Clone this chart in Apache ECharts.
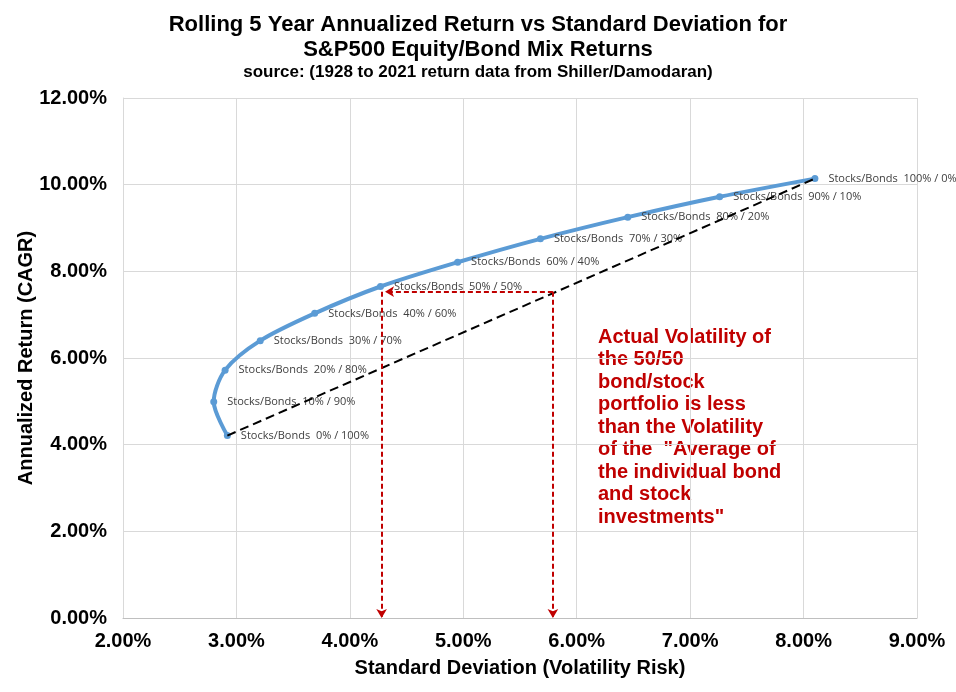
<!DOCTYPE html>
<html>
<head>
<meta charset="utf-8">
<script src="https://cdn.jsdelivr.net/npm/echarts@6/dist/echarts.min.js"></script>
<style>
  html, body { margin: 0; padding: 0; background: #fff; }
  #chart { width: 956px; height: 692px; }
</style>
</head>
<body>
<div id="chart"></div>
<script>
// Portfolio mixes, stocks share first
const mixLabels = [
  'Stocks/Bonds  0% / 100%', 'Stocks/Bonds  10% / 90%', 'Stocks/Bonds  20% / 80%',
  'Stocks/Bonds  30% / 70%', 'Stocks/Bonds  40% / 60%', 'Stocks/Bonds  50% / 50%',
  'Stocks/Bonds  60% / 40%', 'Stocks/Bonds  70% / 30%', 'Stocks/Bonds  80% / 20%',
  'Stocks/Bonds  90% / 10%', 'Stocks/Bonds  100% / 0%'
];
// standard deviation (%) and annualized return (%) of each mix
const stdDev = [2.92, 2.80, 2.90, 3.21, 3.69, 4.27, 4.95, 5.68, 6.45, 7.26, 8.10];
const cagr   = [4.21, 4.99, 5.72, 6.40, 7.03, 7.65, 8.21, 8.75, 9.25, 9.72, 10.14];

// annotation: volatility of the 50/50 mix vs the straight average of both
const mixVol = 4.28;
const avgVol = 5.79;
const levelReturn = 7.53;

const xTicks = { min: 2, max: 9, interval: 1 };
const yTicks = { min: 0, max: 12, interval: 2 };

const chart = echarts.init(document.getElementById('chart'));

const curveData = stdDev.map((x, i) => ({ value: [x, cagr[i]], name: mixLabels[i] }));
const last = stdDev.length - 1;
const averageLine = [[stdDev[0], cagr[0]], [stdDev[last], cagr[last]]];

const pct = v => v.toFixed(2) + '%';
const red = '#C00000';
const bold20 = { fontFamily: 'Liberation Sans', fontWeight: 'bold', fontSize: 20, color: '#000' };

const option = {
  backgroundColor: '#ffffff',
  animation: false,
  title: [
    {
      text: 'Rolling 5 Year Annualized Return vs Standard Deviation for\nS&P500 Equity/Bond Mix Returns',
      left: 'center',
      top: 7,
      textStyle: { fontFamily: 'Liberation Sans', fontWeight: 'bold', fontSize: 22, color: '#000', lineHeight: 25.5 }
    },
    {
      text: 'source: (1928 to 2021 return data from Shiller/Damodaran)',
      left: 'center',
      top: 59,
      textStyle: { fontFamily: 'Liberation Sans', fontWeight: 'bold', fontSize: 17, color: '#000' }
    }
  ],
  grid: { left: 123, right: 39, top: 98, bottom: 74 },
  xAxis: {
    type: 'value',
    min: xTicks.min, max: xTicks.max, interval: xTicks.interval,
    name: 'Standard Deviation (Volatility Risk)',
    nameLocation: 'middle',
    nameGap: 40,
    nameMoveOverlap: false,
    nameTextStyle: bold20,
    axisLine: { show: true, lineStyle: { color: '#bfbfbf', width: 1 } },
    axisTick: { show: false },
    axisLabel: Object.assign({ formatter: pct, margin: 13 }, bold20),
    splitLine: { show: true, lineStyle: { color: '#d9d9d9', width: 1 } }
  },
  yAxis: {
    type: 'value',
    min: yTicks.min, max: yTicks.max, interval: yTicks.interval,
    name: 'Annualized Return (CAGR)',
    nameLocation: 'middle',
    nameGap: 87,
    nameMoveOverlap: false,
    nameTextStyle: bold20,
    axisLine: { show: true, lineStyle: { color: '#d9d9d9', width: 1 } },
    axisTick: { show: false },
    axisLabel: Object.assign({ formatter: pct, margin: 16 }, bold20),
    splitLine: { show: true, lineStyle: { color: '#d9d9d9', width: 1 } }
  },
  series: [
    {
      name: 'Average',
      type: 'line',
      data: averageLine,
      symbol: 'none',
      lineStyle: { color: '#000', width: 2, type: [9, 5] },
      z: 3,
      markLine: {
        silent: true,
        symbol: ['none', 'arrow'],
        symbolSize: [8, 9],
        label: { show: false },
        lineStyle: { color: red, width: 2, type: [5, 3] },
        data: [
          [{ coord: [avgVol, levelReturn] }, { coord: [mixVol + 0.03, levelReturn] }],
          [{ coord: [mixVol, levelReturn] }, { coord: [mixVol, 0] }],
          [{ coord: [avgVol, levelReturn] }, { coord: [avgVol, 0] }]
        ]
      }
    },
    {
      name: 'Mix',
      type: 'line',
      data: curveData,
      smooth: 0.3,
      symbol: 'circle',
      symbolSize: 7,
      itemStyle: { color: '#5B9BD5' },
      lineStyle: { color: '#5B9BD5', width: 4 },
      z: 2,
      label: {
        show: true,
        position: 'right',
        distance: 10,
        formatter: p => p.name,
        fontFamily: 'Open Sans',
        fontSize: 11,
        color: '#404040'
      }
    }
  ],
  graphic: [
    {
      type: 'text',
      left: 598,
      top: 326,
      style: {
        text: 'Actual Volatility of\nthe 50/50\nbond/stock\nportfolio is less\nthan the Volatility\nof the  "Average of\nthe individual bond\nand stock\ninvestments"',
        font: 'bold 20px "Liberation Sans"',
        fill: red,
        lineHeight: 22.5
      }
    }
  ]
};

chart.setOption(option);
</script>
</body>
</html>
